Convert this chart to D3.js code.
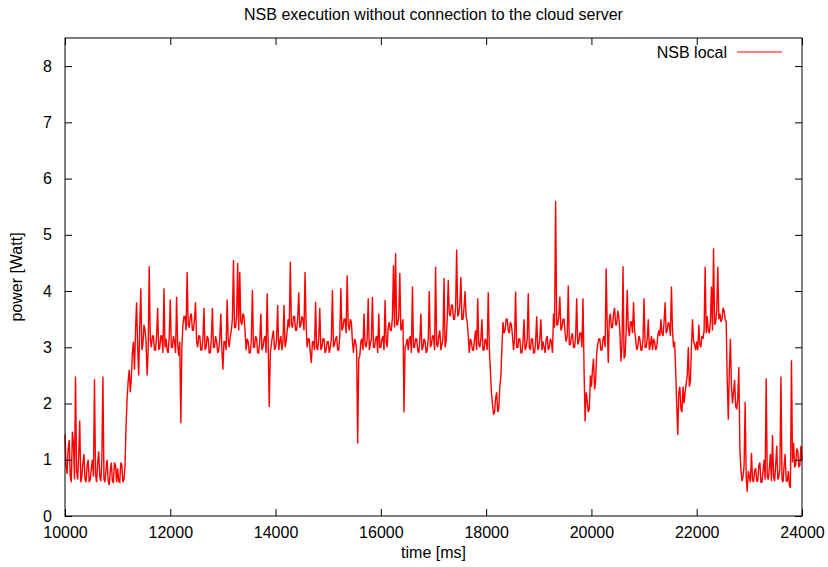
<!DOCTYPE html>
<html><head><meta charset="utf-8">
<script src="https://cdn.jsdelivr.net/npm/d3@7"></script>
<style>
html,body{margin:0;padding:0;background:#fff;}
svg{display:block;font-family:"Liberation Sans",Arial,Helvetica,sans-serif;}
</style></head>
<body>
<svg id="chart" width="828" height="567"></svg>
<script>
// ---- data ----
const title = "NSB execution without connection to the cloud server";
const seriesName = "NSB local";
const xLabel = "time [ms]";
const yLabel = "power [Watt]";
const xTicks = [10000, 12000, 14000, 16000, 18000, 20000, 22000, 24000];
const yTicks = [0, 1, 2, 3, 4, 5, 6, 7, 8];
const tStart = 10000;   // ms, first sample
const tStep = 20;       // ms between samples
const power = [
  // 10000 - 10980
  1.45,0.9,0.75,1.2,1.35,0.7,0.6,1.5,1.3,0.65,2.48,0.8,0.65,1.05,1.7,0.6,0.7,0.95,1.1,0.65,0.6,0.9,1.0,0.6,0.65,
  0.85,1.0,0.7,2.43,0.75,0.6,0.95,1.15,0.7,0.62,1.0,2.48,0.65,0.6,0.85,1.0,0.62,0.55,0.8,0.95,0.62,0.6,0.95,0.9,0.6,
  // 11000 - 11980
  0.85,0.62,0.6,0.95,0.9,0.6,0.65,0.9,1.6,2.1,2.4,2.6,2.2,2.45,2.9,3.1,2.6,3.3,3.8,3.0,2.5,3.4,4.05,2.95,3.05,
  3.4,3.3,3.1,2.5,2.95,4.44,3.15,3.0,3.2,3.2,2.95,2.95,3.2,3.7,2.95,3.0,3.2,3.2,2.9,4.05,3.0,3.15,2.95,2.9,3.2,
  // 12000 - 12980
  3.85,3.0,3.0,3.2,3.1,2.9,3.9,3.05,2.85,3.1,1.65,3.0,3.4,3.55,3.55,3.3,4.34,3.4,3.35,3.55,3.6,3.3,3.3,3.5,3.8,
  3.1,3.0,3.2,3.2,2.95,2.95,3.15,3.7,2.95,3.0,3.2,3.15,2.9,2.9,3.15,3.7,3.0,3.0,3.2,3.1,2.9,2.95,3.15,3.6,2.95,
  // 13000 - 13980
  2.6,3.1,3.1,2.95,3.85,3.15,3.0,3.2,3.3,3.5,4.55,3.35,3.35,3.55,4.5,3.3,4.34,3.45,3.4,3.6,3.55,3.3,2.95,3.15,3.1,
  2.9,2.9,3.15,4.02,3.0,3.0,3.2,3.15,2.9,2.9,3.1,3.6,2.95,3.0,3.15,3.2,2.9,3.96,3.05,1.94,2.9,3.05,3.2,3.3,2.95,
  // 14000 - 14980
  3.0,3.15,3.75,2.95,3.1,3.2,2.95,3.1,3.75,3.0,3.1,3.3,3.5,3.35,4.52,3.4,3.35,3.55,3.55,3.3,3.3,3.5,3.98,3.35,3.4,
  3.55,3.5,3.3,4.34,3.4,3.0,3.15,3.15,2.9,2.72,3.1,3.1,2.95,3.81,3.0,2.95,3.15,3.7,2.95,3.0,3.15,3.15,2.9,2.95,3.1,
  // 15000 - 15980
  3.1,2.9,3.0,3.15,4.02,3.0,3.05,3.15,3.2,2.95,2.95,3.2,4.05,3.3,3.35,3.5,3.5,3.25,4.28,3.4,3.3,3.5,3.45,3.1,2.9,
  3.15,3.1,2.95,1.29,2.8,2.85,3.1,3.15,2.95,3.6,3.05,3.0,3.15,3.87,2.95,3.05,3.15,3.9,3.0,3.0,3.15,3.2,2.9,3.6,3.0,
  // 16000 - 16980
  3.0,3.15,3.2,2.95,3.84,3.1,3.0,3.35,3.45,3.3,3.3,3.55,4.46,3.35,4.67,3.4,3.4,3.55,4.32,3.3,3.35,3.5,1.84,3.0,3.05,
  3.15,2.95,3.15,3.2,2.9,4.08,3.0,3.0,3.15,3.15,2.95,2.9,3.1,3.6,2.95,3.0,3.15,3.1,2.9,2.95,3.15,4.0,3.0,3.05,3.2,
  // 17000 - 17980
  3.2,2.95,4.43,3.05,3.0,3.2,3.3,2.95,3.05,3.15,4.23,3.0,3.1,3.5,4.2,3.6,3.55,3.75,3.75,3.5,3.5,3.7,4.74,3.55,3.6,
  3.75,4.25,3.5,3.5,3.7,4.0,3.55,3.45,3.2,2.9,3.15,3.1,2.95,2.95,3.15,3.3,2.95,3.87,3.05,3.0,3.15,3.5,2.95,2.95,3.15,
  // 18000 - 18980
  3.1,2.95,3.98,3.0,2.6,2.2,2.0,1.8,1.85,2.1,2.2,1.85,1.9,2.3,2.5,3.0,3.45,3.25,3.3,3.5,3.5,3.3,3.25,3.45,3.4,
  3.2,2.95,3.15,3.99,3.0,3.0,3.15,3.15,2.9,2.9,3.1,3.5,2.95,3.0,3.15,3.96,3.0,2.95,3.15,3.15,2.9,2.9,3.1,3.55,2.95,
  // 19000 - 19980
  3.0,3.15,3.5,2.95,3.1,3.0,2.9,3.15,3.2,2.95,3.0,3.15,3.1,2.9,3.6,3.35,5.6,3.4,3.4,3.55,3.9,3.3,3.35,3.5,3.5,
  3.25,3.1,3.2,4.1,3.05,3.05,3.2,3.25,3.0,3.0,3.2,3.87,3.05,3.1,3.25,3.25,3.0,3.87,2.6,1.68,2.2,2.05,1.85,1.9,2.5,
  // 20000 - 20980
  2.3,2.6,2.8,2.25,2.4,2.9,3.05,3.15,3.15,2.95,2.95,3.15,3.2,3.0,4.4,3.4,2.72,3.5,3.6,3.35,3.35,3.6,3.7,3.4,3.4,
  3.65,3.55,3.3,2.75,3.0,4.44,2.8,2.85,3.3,4.02,3.35,3.2,3.45,3.45,3.25,3.8,3.3,3.15,2.95,3.0,3.2,3.15,2.95,2.95,3.15,
  // 21000 - 21980
  3.87,3.0,3.0,3.15,3.5,2.95,3.05,3.2,2.95,3.15,3.1,2.95,3.0,3.2,3.3,3.2,3.5,3.25,3.2,3.45,3.8,3.25,3.3,3.45,3.4,
  3.2,4.08,3.3,3.0,3.1,2.6,2.0,1.44,2.2,2.3,1.9,1.85,2.3,2.0,2.2,2.35,2.5,3.0,2.3,2.4,3.0,3.5,3.1,3.05,2.95,
  // 22000 - 22980
  3.1,2.95,3.4,3.05,3.0,3.2,3.15,3.3,4.43,3.25,3.55,3.3,3.25,3.45,4.08,3.3,4.76,3.4,3.45,3.65,4.43,3.5,3.6,3.45,3.5,
  3.7,3.65,3.5,3.45,2.4,1.71,2.6,3.15,2.3,2.0,2.2,2.42,1.95,1.9,2.1,2.65,1.2,0.82,0.62,0.7,0.9,2.03,0.7,0.43,0.8,
  // 23000 - 24000
  0.7,0.6,1.12,0.65,0.6,0.8,0.85,0.62,0.62,0.9,0.95,0.6,0.6,0.8,1.0,0.65,2.45,0.7,0.65,0.85,1.1,0.62,1.44,0.7,0.62,
  0.9,1.25,0.65,0.7,0.85,2.48,0.65,0.6,0.9,1.1,0.62,0.62,0.8,0.55,0.5,2.77,0.95,1.3,0.88,0.9,1.2,1.15,0.88,0.9,1.25,
  1.0
];
const points = power.map((v, i) => ({t: tStart + i * tStep, v}));

// ---- layout ----
const W = 828, H = 567;
const m = {left: 65, right: 26, top: 38, bottom: 51};
const svg = d3.select("#chart");
const x = d3.scaleLinear().domain([10000, 24000]).range([m.left, W - m.right]);
const y = d3.scaleLinear().domain([0, 8.5]).range([H - m.bottom, m.top]);
const fs = 16;
const fam = '"Liberation Sans",Arial,sans-serif';

// data line
svg.append("path")
  .datum(points)
  .attr("fill", "none")
  .attr("stroke", "#ff0000")
  .attr("stroke-width", 1.4)
  .attr("d", d3.line().x(d => x(d.t)).y(d => y(d.v)));

// axes (gnuplot style: inward ticks, mirrored)
const tl = 7;
const gB = svg.append("g").attr("transform", `translate(0,${H - m.bottom})`)
  .call(d3.axisBottom(x).tickValues(xTicks).tickSizeInner(-tl).tickSizeOuter(0).tickPadding(11).tickFormat(d3.format("d")));
const gT = svg.append("g").attr("transform", `translate(0,${m.top})`)
  .call(d3.axisTop(x).tickValues(xTicks).tickSizeInner(-tl).tickSizeOuter(0).tickFormat(""));
const gL = svg.append("g").attr("transform", `translate(${m.left},0)`)
  .call(d3.axisLeft(y).tickValues(yTicks).tickSizeInner(-tl).tickSizeOuter(0).tickPadding(13).tickFormat(d3.format("d")));
const gR = svg.append("g").attr("transform", `translate(${W - m.right},0)`)
  .call(d3.axisRight(y).tickValues(yTicks).tickSizeInner(-tl).tickSizeOuter(0).tickFormat(""));
[gB, gT, gL, gR].forEach(g => {
  g.select(".domain").remove();
  g.selectAll(".tick line").attr("stroke", "#000").attr("stroke-width", 1);
  g.selectAll("text").attr("fill", "#000").style("font-size", fs + "px").style("font-family", fam);
});
// frame
svg.append("rect")
  .attr("x", m.left).attr("y", m.top)
  .attr("width", W - m.left - m.right).attr("height", H - m.top - m.bottom)
  .attr("fill", "none").attr("stroke", "#000").attr("stroke-width", 1);

// title and axis labels
svg.append("text").attr("x", (m.left + W - m.right) / 2).attr("y", 20)
  .attr("text-anchor", "middle").style("font-size", fs + "px").text(title);
svg.append("text").attr("x", (m.left + W - m.right) / 2).attr("y", 558)
  .attr("text-anchor", "middle").style("font-size", fs + "px").text(xLabel);
svg.append("text").attr("transform", `translate(22,${(m.top + H - m.bottom) / 2}) rotate(-90)`)
  .attr("text-anchor", "middle").style("font-size", fs + "px").text(yLabel);

// legend
const ly = 52;
svg.append("text").attr("x", 727).attr("y", ly + 6).attr("text-anchor", "end")
  .style("font-size", fs + "px").text(seriesName);
svg.append("line").attr("x1", 737).attr("x2", 782).attr("y1", ly).attr("y2", ly)
  .attr("stroke", "#ff0000").attr("stroke-width", 1);
</script>
</body></html>
